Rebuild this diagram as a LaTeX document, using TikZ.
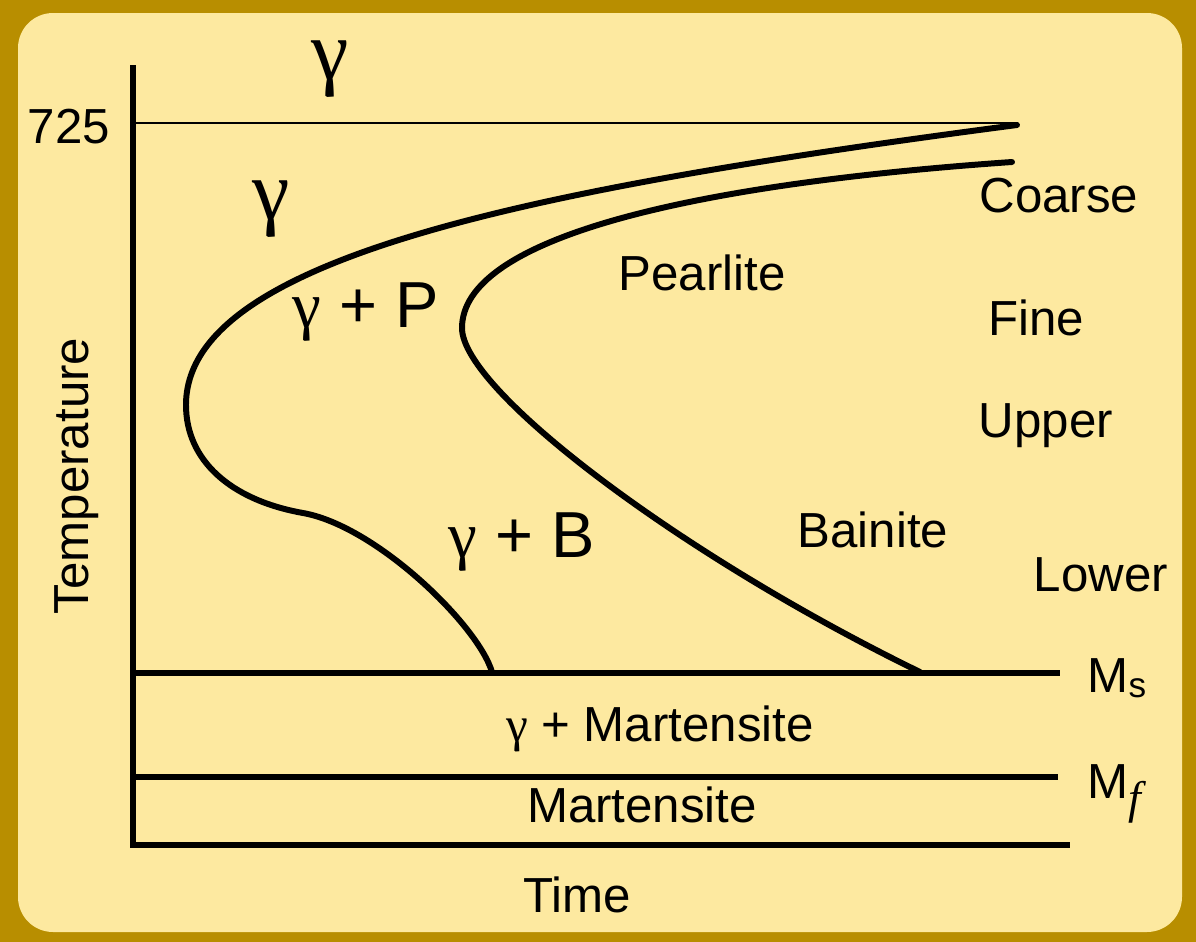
\documentclass[tikz,border=0pt]{standalone}
\usepackage{fontspec}
\setmainfont{Liberation Sans}
\newfontfamily\gfont{Liberation Serif}
\usetikzlibrary{positioning}
\definecolor{framegold}{RGB}{184,142,0}
\definecolor{paper}{RGB}{253,233,160}
\newcommand{\gam}{{\gfont γ}}

\begin{document}
\begin{tikzpicture}[x=0.01cm, y=-0.01cm, line join=round,
    lbl/.style={font=\fontsize{14}{16}\selectfont, inner sep=0pt, anchor=base},
    phase/.style={font=\fontsize{18.5}{20}\selectfont, inner sep=0pt, anchor=base},
    biggam/.style={font=\fontsize{24}{26}\selectfont, inner sep=0pt},
    curve/.style={line width=1.7pt, line cap=round}]
    % Rahmen
    \fill[framegold] (0,0) rectangle (1196,942);
    \fill[paper, rounded corners=3.5mm] (18,13) rectangle (1182,932);

    % Achsen
    \coordinate (top) at (133,65);
    \coordinate (origin) at (133,845);
    \coordinate (tend) at (1070,845);
    \draw[line width=1.6pt, line join=miter] (top) -- (origin) -- (tend);

    % Temperaturlinien
    \coordinate (a725) at (133,123);
    \coordinate (b725) at (1018,123);
    \coordinate (ams) at (133,673);
    \coordinate (bms) at (1060,673);
    \coordinate (amf) at (133,777);
    \coordinate (bmf) at (1058,777);
    \draw[line width=0.6pt] (a725) -- (b725);
    \draw[line width=1.6pt] (ams) -- (bms);
    \draw[line width=1.6pt] (amf) -- (bmf);

    % Beginn / Ende der Umwandlung
    \coordinate (s_tip) at (1017,125);
    \coordinate (s_nose) at (186,405);
    \coordinate (s_knee) at (303,513);
    \coordinate (s_end) at (492,672);
    \draw[curve] (s_tip) .. controls (520,190) and (186,260) .. (s_nose)
        .. controls (186,460) and (230,500) .. (s_knee)
        .. controls (376,526) and (478,625) .. (s_end);
    \coordinate (f_tip) at (1012,162);
    \coordinate (f_nose) at (462,328);
    \coordinate (f_end) at (920,672);
    \draw[curve] (f_tip) .. controls (680,185) and (462,240) .. (f_nose)
        .. controls (462,390) and (680,555) .. (f_end);

    % Beschriftungen
    \node[biggam] (g_top) at (330,69) {\gam};
    \node[biggam] (g_left) at (271,209) {\gam};
    \node[lbl] (t725) at (69,143) {725};
    \node[phase] (gp) at (366,327) {\gam\ + P};
    \node[phase] (gb) at (522,557) {\gam\ + B};
    \node[lbl] (pearl) at (702,290) {Pearlite};
    \node[lbl] (bain) at (873,547) {Bainite};
    \node[lbl] (coarse) at (1059,212) {Coarse};
    \node[lbl] (fine) at (1036,335) {Fine};
    \node[lbl] (upper) at (1046,437) {Upper};
    \node[lbl] (lower) at (1101,591) {Lower};
    \node[lbl] (gm) at (660,741) {\gam\ + Martensite};
    \node[lbl] (mart) at (642,822) {Martensite};
    \node[lbl] (time) at (577,912) {Time};
    \node[lbl, rotate=90] (temp) at (88,476) {Temperature};
    \node[lbl, anchor=base west] (ms) at (1087,692)
        {M\raisebox{-1.7pt}{\fontsize{10}{12}\selectfont s}};
    \node[lbl, anchor=base west] (mf) at (1087,798)
        {M\raisebox{-4.3pt}{\gfont\itshape\fontsize{13}{14}\selectfont f}};
\end{tikzpicture}
\end{document}
